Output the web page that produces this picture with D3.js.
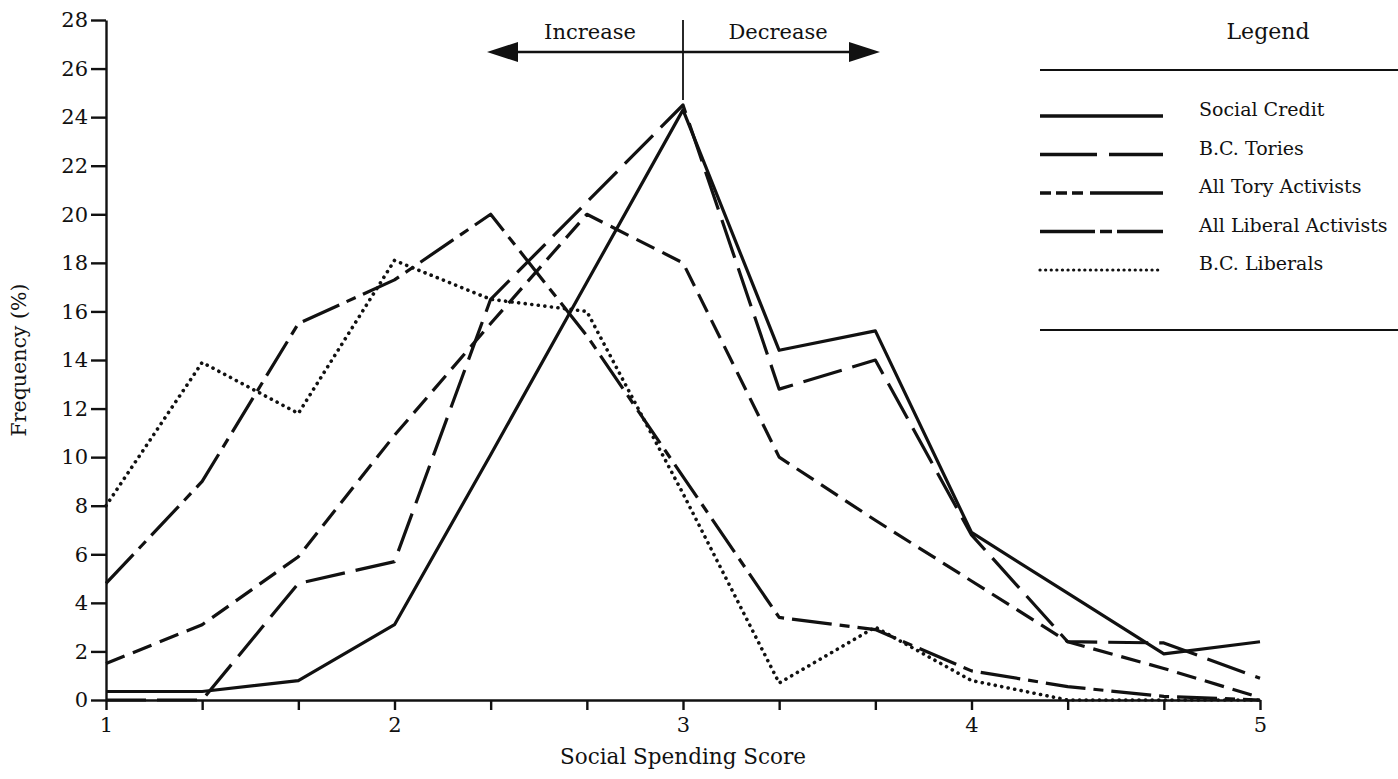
<html>
<head>
<script src="https://d3js.org/d3.v7.min.js"></script>
<style>
  body { margin: 0; background: #fff; }
  text { font-family: "DejaVu Serif", "Liberation Serif", serif; fill: #111; }
</style>
</head>
<body>
<svg id="chart" width="1398" height="779"></svg>
<script>
// -------------------------------------------------
// data (frequency in %)
// -------------------------------------------------
var scores = [1, 1.3333, 1.6667, 2, 2.3333, 2.6667, 3, 3.3333, 3.6667, 4, 4.3333, 4.6667, 5];
var socialCredit = [0.35, 0.35, 0.8, 3.1, 10.1, 17.2, 24.3, 14.4, 15.2, 6.9, 4.4, 1.9, 2.4];
var bcTories = [0, 0, 4.8, 5.7, 16.5, 20.5, 24.5, 12.8, 14.0, 6.8, 2.4, 2.35, 0.9];
var allTory = [1.5, 3.1, 5.9, 10.9, 15.5, 20.0, 18.0, 10.0, 7.4, 4.9, 2.4, 1.3, 0.1];
var allLiberal = [4.8, 9.0, 15.5, 17.3, 20.0, 15.0, 9.2, 3.4, 2.9, 1.2, 0.55, 0.15, 0];
var bcLiberals = [8.0, 13.9, 11.8, 18.1, 16.5, 16.0, 8.5, 0.7, 3.0, 0.8, 0, 0, 0];

var yTicks = [0, 2, 4, 6, 8, 10, 12, 14, 16, 18, 20, 22, 24, 26, 28];
var seriesNames = ["Social Credit", "B.C. Tories", "All Tory Activists", "All Liberal Activists", "B.C. Liberals"];
var seriesValues = [socialCredit, bcTories, allTory, allLiberal, bcLiberals];
var dashes = ["none", "40,11", "20,9", "40,8,10,8", "0.1,6.5"];
var legendDashes = ["none", "57,12,55", "11,5,11,5,11,7,73", "55,5,12,5,47", "0.1,5.5"];

var svg = d3.select("#chart");

var x = d3.scaleLinear().domain([1, 5]).range([106, 1260]);
var y = d3.scaleLinear().domain([0, 28]).range([700, 20]);

// -------------------------------------------------
// axes
// -------------------------------------------------
var yAxis = d3.axisLeft(y)
	.tickValues(yTicks)
	.tickSize(15)
	.tickSizeOuter(0)
	.tickPadding(3);

var xAxis = d3.axisBottom(x)
	.tickValues(scores)
	.tickSize(10)
	.tickSizeOuter(0)
	.tickPadding(7)
	.tickFormat(function(d){ return Math.abs(d - Math.round(d)) < 0.01 ? d : ""; });

var gy = svg.append("g").attr("transform", "translate(106,0)").call(yAxis);
var gx = svg.append("g").attr("transform", "translate(0,700)").call(xAxis);

[gx, gy].forEach(function(g){
	g.selectAll("path, line").attr("stroke", "#111").attr("stroke-width", 2.4);
	g.selectAll("text").style("font-family", "DejaVu Serif").style("font-size", "21px").attr("fill", "#111");
});

svg.append("text")
	.attr("x", x(3)).attr("y", 764)
	.attr("text-anchor", "middle")
	.style("font-size", "21.5px")
	.text("Social Spending Score");

svg.append("text")
	.attr("transform", "translate(26,360)rotate(-90)")
	.attr("text-anchor", "middle")
	.style("font-size", "20.5px")
	.text("Frequency (%)");

// -------------------------------------------------
// lines
// -------------------------------------------------
var line = d3.line()
	.x(function(d, i){ return x(scores[i]); })
	.y(function(d){ return y(d); });

seriesValues.forEach(function(vals, k){
	svg.append("path")
		.attr("d", line(vals))
		.attr("fill", "none")
		.attr("stroke", "#111")
		.attr("stroke-width", k == 4 ? 3.6 : 3.2)
		.attr("stroke-linecap", k == 4 ? "round" : "butt")
		.attr("stroke-linejoin", "round")
		.attr("stroke-dasharray", dashes[k]);
});

// -------------------------------------------------
// increase / decrease arrow
// -------------------------------------------------
var arrowY = 52;
svg.append("line")
	.attr("x1", x(3)).attr("x2", x(3))
	.attr("y1", 20).attr("y2", 100)
	.attr("stroke", "#111").attr("stroke-width", 1.8);
svg.append("line")
	.attr("x1", 515).attr("x2", 852)
	.attr("y1", arrowY).attr("y2", arrowY)
	.attr("stroke", "#111").attr("stroke-width", 2.5);
svg.append("path")
	.attr("d", "M487," + arrowY + "L518," + (arrowY - 10) + "L518," + (arrowY + 10) + "Z")
	.attr("fill", "#111");
svg.append("path")
	.attr("d", "M880," + arrowY + "L849," + (arrowY - 10) + "L849," + (arrowY + 10) + "Z")
	.attr("fill", "#111");
svg.append("text").attr("x", 590).attr("y", 39).attr("text-anchor", "middle")
	.style("font-size", "21px").text("Increase");
svg.append("text").attr("x", 778).attr("y", 39).attr("text-anchor", "middle")
	.style("font-size", "21px").text("Decrease");

// -------------------------------------------------
// legend
// -------------------------------------------------
svg.append("text").attr("x", 1268).attr("y", 39).attr("text-anchor", "middle")
	.style("font-size", "22px").text("Legend");
svg.append("line").attr("x1", 1040).attr("x2", 1398).attr("y1", 70).attr("y2", 70)
	.attr("stroke", "#111").attr("stroke-width", 2);
svg.append("line").attr("x1", 1040).attr("x2", 1398).attr("y1", 330).attr("y2", 330)
	.attr("stroke", "#111").attr("stroke-width", 2);

var legend = svg.selectAll(".leg").data(seriesNames)
	.enter().append("g")
	.attr("class", "leg")
	.attr("transform", function(d, i){ return "translate(0," + (116 + i * 38.5) + ")"; });

legend.append("line")
	.attr("x1", 1040).attr("x2", 1163)
	.attr("y1", 0).attr("y2", 0)
	.attr("stroke", "#111")
	.attr("stroke-width", function(d, i){ return i == 4 ? 3.2 : 3.6; })
	.attr("stroke-linecap", function(d, i){ return i == 4 ? "round" : "butt"; })
	.attr("stroke-dasharray", function(d, i){ return legendDashes[i]; });

legend.append("text")
	.attr("x", 1199).attr("y", 0)
	.style("font-size", "19px")
	.text(function(d){ return d; });
</script>
</body>
</html>
